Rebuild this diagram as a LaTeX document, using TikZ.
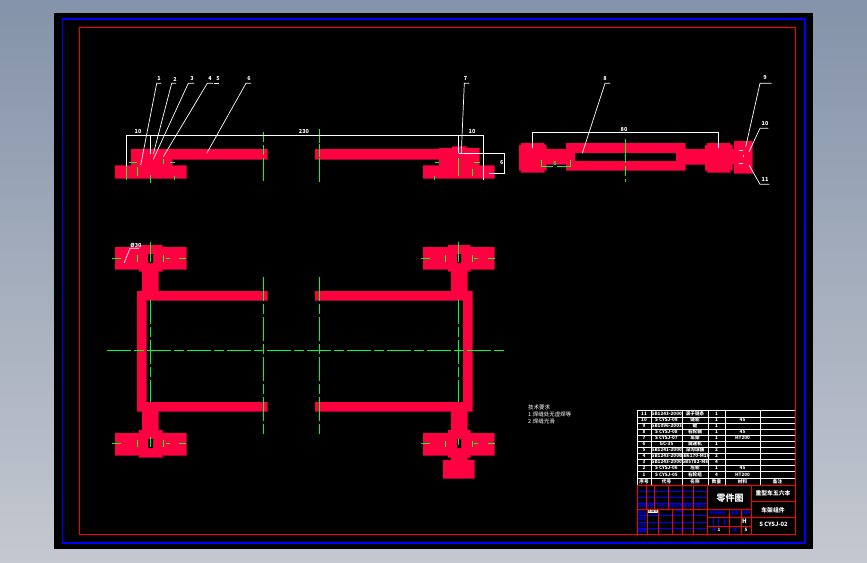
\documentclass[tikz,border=0pt]{standalone}
\usepackage{fontspec}
\setmainfont{Noto Sans CJK SC}
\definecolor{cadred}{HTML}{FF0040}
\definecolor{cadedge}{HTML}{A00030}
\definecolor{cadgreen}{HTML}{00FF20}
\definecolor{cadblue}{HTML}{0000FF}
\definecolor{bgtop}{HTML}{8493A9}
\definecolor{bgbot}{HTML}{C4C8D0}
\newcommand{\partsList}{
 115/165.7/186/178, 131/149/267/159, 131/152/172/166, 139/155/160/170,
 315/149/440/159, 439/148/479/166, 423/165.7/494/178, 452/146.5/466/150,
 519/145/546/170, 521/143/544/172, 546/149/566/164,
 566/143/685/170, 685/149/705/164,
 705/145/732/170, 707/143/730/172, 732/149/734/164, 734/141/752/173,
 115/247/186/269, 139/245/162/271, 142/271/158/291,
 137/291/267/300, 137/291/146/411, 137/402/267/411,
 142/411/158/430, 115/433/186/455, 139/430/162/457,
 423/247/494/269, 448/245/470/271, 451/271/467/291,
 315/291/472/300, 463/291/472/411, 315/402/472/411,
 451/411/467/430, 423/433/494/455, 448/430/470/457,
 451/457/467/460, 443/460/474/478}
\tikzset{
 redline/.style={draw=red,line width=0.8pt},
 whiteline/.style={draw=white,line width=0.9pt},
 blueline/.style={draw=cadblue,line width=0.8pt},
 centerline/.style={draw=cadgreen,line width=1pt,dash pattern=on 24pt off 3pt on 10pt off 3pt},
 greenline/.style={draw=cadgreen,line width=1pt},
 label/.style={text=white,inner sep=0pt,font=\fontsize{5.5}{6}\selectfont\bfseries},
 tinytext/.style={text=white,inner sep=0pt,font=\fontsize{4.6}{5}\selectfont\bfseries},
 bluetext/.style={text=cadblue,inner sep=0pt,font=\fontsize{4}{4.5}\selectfont\bfseries},
 leader/.style={draw=white,line width=0.7pt},
}
\begin{document}
\begin{tikzpicture}[x=1pt,y=-1pt]
\useasboundingbox (0,0) rectangle (867,562);
\shade[top color=bgtop,bottom color=bgbot] (0,0) rectangle (867,562);
\fill[black] (54,13) rectangle (813,549);
\draw[draw=cadblue,line width=1.1pt] (62.5,19) rectangle (805,543);
\draw[redline] (79.5,27.5) rectangle (795.5,534.5);
% red parts
\foreach \a/\b/\c/\d in \partsList
  \draw[cadedge,line width=0.9pt] (\a,\b) rectangle (\c,\d);
\foreach \a/\b/\c/\d in \partsList
  \fill[cadred] (\a,\b) rectangle (\c,\d);
\fill[black] (575,153) rectangle (676,161);
\fill[black] (148,254) rectangle (153,263) (457,254) rectangle (461,263)
 (148,439) rectangle (153,448) (457,439) rectangle (461,448);
% centre lines
\draw[centerline] (107,350.5) -- (505,350.5);
\draw[centerline] (263,277) -- (263,437);
\draw[centerline] (319.5,277) -- (319.5,437);
\draw[centerline] (150.5,300) -- (150.5,402);
\draw[centerline] (458.5,300) -- (458.5,402);
\draw[greenline] (263,132) -- (263,142) (263,145) -- (263,155) (263,158) -- (263,181);
\draw[greenline] (319.5,129) -- (319.5,143) (319.5,144) -- (319.5,157) (319.5,158) -- (319.5,182);
\draw[greenline] (150.5,175) -- (150.5,183) (126.5,166) -- (126.5,180) (137.5,167) -- (137.5,176)
 (174.5,176) -- (174.5,180) (163.5,159) -- (163.5,164) (129,162.5) -- (137,162.5) (170,162.5) -- (175,162.5);
\draw[greenline] (435,162.5) -- (439,162.5) (474,162.5) -- (480,162.5) (472.5,169) -- (472.5,176)
 (458.5,158) -- (458.5,176) (434.5,176) -- (434.5,180) (483,166) -- (483,180);
\draw[greenline] (112,258.5) -- (121,258.5) (166,258.5) -- (170,258.5) (179,258.5) -- (186,258.5)
 (137.5,255) -- (137.5,262) (163.5,255) -- (163.5,262) (150.5,242) -- (150.5,262);
\draw[greenline] (421,258.5) -- (430,258.5) (474,258.5) -- (478,258.5) (488,258.5) -- (495,258.5)
 (445.5,255) -- (445.5,262) (472.5,255) -- (472.5,262) (458.5,242) -- (458.5,262);
\draw[greenline] (112,443.5) -- (121,443.5) (166,443.5) -- (170,443.5) (179,443.5) -- (186,443.5)
 (137.5,440) -- (137.5,447) (163.5,440) -- (163.5,447) (150.5,437) -- (150.5,447);
\draw[greenline] (421,443.5) -- (430,443.5) (474,443.5) -- (478,443.5) (488,443.5) -- (495,443.5)
 (445.5,441) -- (445.5,447) (472.5,441) -- (472.5,447) (458.5,439) -- (458.5,445);
\draw[centerline] (625.5,139) -- (625.5,182);
\draw[greenline] (541.5,160) -- (541.5,166.5) -- (553,166.5) (557,166.5) -- (570.5,166.5) -- (570.5,160);
\node[text=cadgreen,inner sep=0pt,font=\fontsize{5.5}{6}\selectfont\bfseries] (gd) at (555,164) {6};
% dimensions
\draw[whiteline] (126.5,166) -- (126.5,135.5) -- (483.5,135.5) -- (483.5,180);
\draw[whiteline] (150.5,135.5) -- (150.5,154) (458.5,135.5) -- (458.5,153);
\draw[whiteline] (458.5,153.5) -- (504.5,153.5) -- (504.5,173.5) -- (489,173.5);
\draw[whiteline] (532.7,147.7) -- (532.7,132.7) -- (718.5,132.7) -- (718.5,147.7);
\node[label] (d1) at (138,132) {10};
\node[label] (d2) at (304,132) {230};
\node[label] (d3) at (472,132) {10};
\node[label] (d4) at (501.7,163) {6};
\node[label] (d5) at (624,130) {80};
% leaders
\draw[leader] (140.7,165) -- (156.7,83.3) -- (161,83.3);
\draw[leader] (153.3,154) -- (171.7,83.3) -- (176,83.3);
\draw[leader] (153.3,159.3) -- (188.3,83.3) -- (194,83.3);
\draw[leader] (163.3,156.7) -- (207.3,83.3) -- (213,83.3);
\draw[leader] (214,83.3) -- (219,83.3);
\draw[leader] (206.7,153.3) -- (246,83.3) -- (251,83.3);
\draw[leader] (461.3,153) -- (464.3,83.3) -- (469,83.3);
\draw[leader] (582.3,153.3) -- (605,83.3) -- (610,83.3);
\draw[leader] (745.7,146.7) -- (760,83.3) -- (771.7,83.3);
\draw[leader] (749,151.7) -- (760,128.3) -- (768.3,128.3);
\draw[leader] (749,165) -- (760,184.3) -- (769.3,184.3);
\draw[leader] (124.3,262.7) -- (130,248.3) -- (139,248.3);
\draw[leader] (739,150.5) -- (743,150.5) (739,163.5) -- (743,163.5) (743,154.5) -- (743,157);
\node[label] (n1) at (159,79) {1};
\node[label] (n2) at (175,79) {2};
\node[label] (n3) at (192,79) {3};
\node[label] (n4) at (210,79) {4};
\node[label] (n5) at (218,79) {5};
\node[label] (n6) at (249,79) {6};
\node[label] (n7) at (465.5,79) {7};
\node[label] (n8) at (605,79) {8};
\node[label] (n9) at (765,78) {9};
\node[label] (n10) at (765,124) {10};
\node[label] (n11) at (765,180) {11};
\node[label] (dia) at (136,245) {Ø30};
% notes
\node[tinytext,anchor=west,font=\fontsize{5.5}{6}\selectfont] (t1) at (528,407.5) {技术要求};
\node[tinytext,anchor=west,font=\fontsize{5.5}{6}\selectfont] (t2) at (528,414.5) {1.焊缝处无虚焊等};
\node[tinytext,anchor=west,font=\fontsize{5.5}{6}\selectfont] (t3) at (528,421) {2.焊缝光滑};
% table
\draw[whiteline] (795,410) -- (637.5,410) -- (637.5,485);
\foreach \y in {417,423,429,435,441,447,453,459,465,471,478}
  \draw[whiteline] (637.5,\y) -- (795,\y);
\foreach \x in {651,682,708,725,760}
  \draw[whiteline] (\x,410) -- (\x,485);
\draw[redline] (795.5,405) -- (795.5,485);
\newcommand{\trow}[6]{
 \node[tinytext] (r#1a) at (644,#2) {#1};
 \node[tinytext] (r#1b) at (666.5,#2) {#3};
 \node[tinytext] (r#1c) at (695,#2) {#4};
 \node[tinytext] (r#1d) at (716.5,#2) {#5};
 \node[tinytext] (r#1e) at (742.5,#2) {#6};
}
\trow{11}{413.5}{GB1243-2000}{滚子链条}{1}{}
\trow{10}{420}{S CYSJ-09}{链轮}{1}{45}
\trow{9}{426}{GB1096-2003}{键}{1}{}
\trow{8}{432}{S CYSJ-08}{右轮轴}{1}{45}
\trow{7}{438}{S CYSJ-07}{车架}{1}{HT200}
\trow{6}{444}{GC-35}{减速机}{1}{}
\trow{5}{450}{GB1241-2000}{深沟球轴}{2}{}
\trow{4}{456}{GB1243-2000}{GB6170-M10}{2}{}
\trow{3}{462}{GB1243-2000}{GB5782-M8}{4}{}
\trow{2}{468}{S CYSJ-06}{左轮}{1}{45}
\trow{1}{474.5}{S CYSJ-05}{右轮组}{4}{HT200}
\node[tinytext] (ha) at (644,481.5) {序号};
\node[tinytext] (hb) at (666.5,481.5) {代号};
\node[tinytext] (hc) at (695,481.5) {名称};
\node[tinytext] (hd) at (716.5,481.5) {数量};
\node[tinytext] (he) at (742.5,481.5) {材料};
\node[tinytext] (hf) at (777.5,481.5) {备注};
% title block blue
\foreach \y in {491.5,497,503,515,522,528}
  \draw[blueline] (637.5,\y) -- (707,\y);
\draw[blueline] (713,517) -- (713,526) (718.5,517) -- (718.5,526) (724,517) -- (724,526);
\node[bluetext] (b1) at (641.5,506) {标记};
\node[bluetext] (b2) at (650,506) {处数};
\node[bluetext] (b3) at (661,505.5) {分区};
\node[bluetext] (b4) at (675,505.5) {更改文件};
\node[bluetext] (b5) at (687.5,505.5) {签名};
\node[bluetext] (b6) at (700,505.5) {年月日};
\node[bluetext] (b7) at (642,512.5) {设计};
\node[bluetext] (b8) at (642,519) {审核};
\node[bluetext] (b9) at (642,526) {工艺};
\node[bluetext] (b10) at (642,531) {批准};
\node[bluetext] (b11) at (680,511) {日期};
\node[bluetext] (b12) at (718,513) {阶段标记};
\node[bluetext] (b13) at (735,512.5) {重量};
\node[bluetext] (b14) at (746,512.5) {比例};
\node[bluetext] (b15) at (714,529.5) {共};
\node[bluetext] (b16) at (735,529.5) {第};
\node[bluetext] (b17) at (682,530) {年};
\node[tinytext,fill=white,text=black,font=\fontsize{4}{4.5}\selectfont] (b18) at (652.5,511) {标准化};
\node[tinytext] (b19) at (719,529.5) {1};
\node[tinytext] (b20) at (746,529.5) {5};
\node[label,font=\fontsize{6}{7}\selectfont\bfseries] (b21) at (744.5,521.5) {H};
% title block red
\draw[redline] (637.5,485) rectangle (795.5,534.5);
\draw[redline] (637.5,509.5) -- (751.5,509.5);
\draw[redline] (707,485) -- (707,534.5) (751.5,485) -- (751.5,534.5);
\draw[redline] (751.5,501.5) -- (795.5,501.5) (751.5,517.5) -- (795.5,517.5);
\draw[redline] (707,517.5) -- (751.5,517.5) (707,526.5) -- (751.5,526.5);
\draw[redline] (729,509.5) -- (729,534.5) (741,509.5) -- (741,517.5) (741,526.5) -- (741,534.5) (741,517.5) -- (741,526.5);
\foreach \x in {646,654,668,682,693}
  \draw[redline] (\x,485) -- (\x,509.5);
\foreach \x in {647,658,672,682,693}
  \draw[redline] (\x,509.5) -- (\x,534.5);
\node[inner sep=0pt,text=white,font=\fontsize{9}{10}\selectfont\bfseries] (title) at (730,498) {零件图};
\node[label,font=\fontsize{5.8}{7}\selectfont\bfseries] (org) at (773,493) {重型车五六本};
\node[label,font=\fontsize{5.8}{7}\selectfont\bfseries] (draw) at (773,510) {车架组件};
\node[label,font=\fontsize{5.8}{7}\selectfont\bfseries] (num) at (773.5,524) {S CYSJ-02};
\end{tikzpicture}
\end{document}
